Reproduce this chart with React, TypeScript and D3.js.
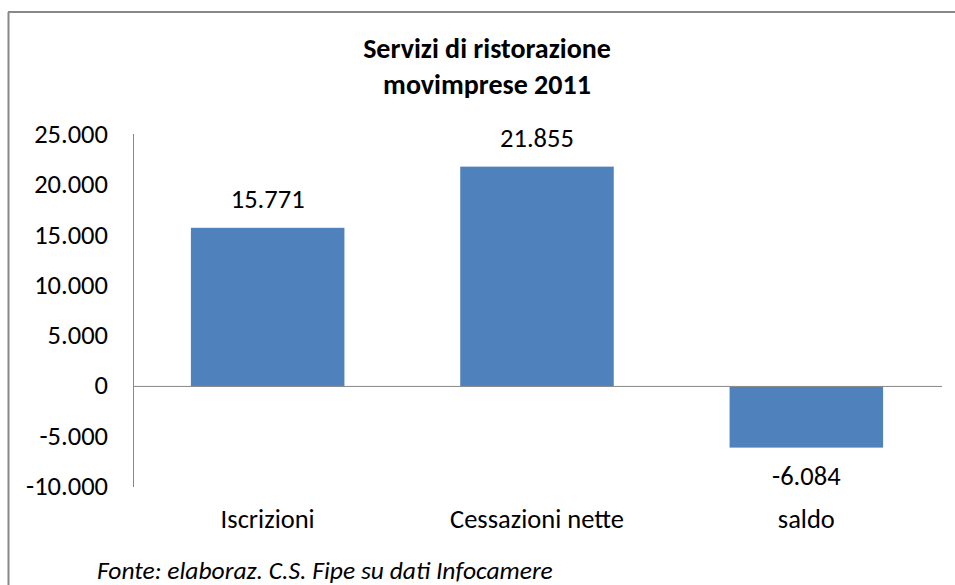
import React from "react";
import * as d3 from "d3";

const categories = ["Iscrizioni", "Cessazioni nette", "saldo"];
const values = [15771, 21855, -6084];
const yTicks = [-10000, -5000, 0, 5000, 10000, 15000, 20000, 25000];
const titleLines = ["Servizi di ristorazione", "movimprese 2011"];
const source = "Fonte: elaboraz. C.S. Fipe su dati Infocamere";

const W = 955;
const H = 585;
const FONT = "Carlito, Lato, 'Open Sans', sans-serif";

const fmt = (v: number) => {
  const s = Math.abs(v).toString().replace(/\B(?=(\d{3})+(?!\d))/g, ".");
  return (v < 0 ? "-" : "") + s;
};

export default function App() {
  const x = d3.scaleBand<string>().domain(categories).range([133, 941]).paddingInner(0.43).paddingOuter(0.215);
  const y = d3.scaleLinear().domain([-10000, 25000]).range([487, 135]);
  return (
    <svg width={W} height={H} style={{ position: "absolute", left: 0, top: 0, background: "#fff" }}>
      <rect x={0} y={0} width={W} height={H} fill="#fff" />
      <line x1={8.5} y1={12} x2={8.5} y2={H} stroke="#888" strokeWidth={2} />
      <line x1={8} y1={12} x2={W} y2={12} stroke="#888" strokeWidth={2} />
      {titleLines.map((t, i) => (
        <text key={t} x={487} y={58 + i * 36} textAnchor="middle" fontFamily={FONT} fontWeight="bold" fontSize={28} fill="#000">
          {t}
        </text>
      ))}
      {yTicks.map((t) => (
        <text key={t} x={108} y={y(t) + 8} textAnchor="end" fontFamily={FONT} fontSize={26.5} fill="#000">
          {fmt(t)}
        </text>
      ))}
      {categories.map((c, i) => {
        const v = values[i];
        const y0 = y(0);
        const y1 = y(v);
        return (
          <g key={c}>
            <rect x={x(c)} y={Math.min(y0, y1)} width={x.bandwidth()} height={Math.abs(y1 - y0)} fill="#4F81BD" />
            <text
              x={(x(c) as number) + x.bandwidth() / 2}
              y={v >= 0 ? y1 - 20 : y1 + 37}
              textAnchor="middle"
              fontFamily={FONT}
              fontSize={26.5}
              fill="#000"
            >
              {fmt(v)}
            </text>
            <text x={(x(c) as number) + x.bandwidth() / 2} y={528} textAnchor="middle" fontFamily={FONT} fontSize={26.5} fill="#000">
              {c}
            </text>
          </g>
        );
      })}
      <line x1={133} y1={y(0)} x2={942} y2={y(0)} stroke="#888" strokeWidth={1} />
      <line x1={133.5} y1={134} x2={133.5} y2={487} stroke="#888" strokeWidth={1} />
      <text x={97} y={579} fontFamily={FONT} fontStyle="italic" fontSize={25.5} fill="#000">
        {source}
      </text>
    </svg>
  );
}
